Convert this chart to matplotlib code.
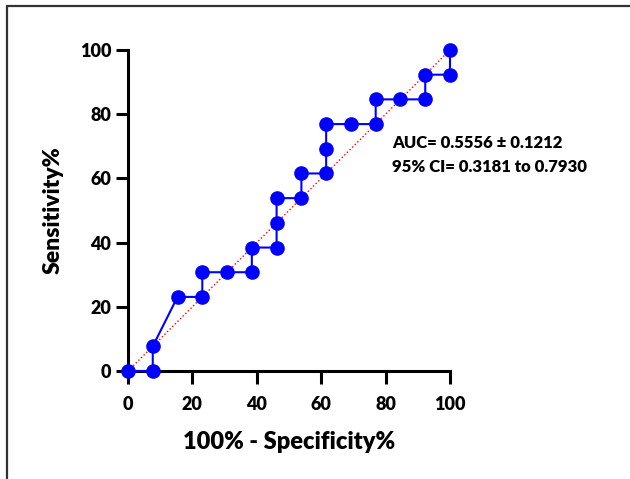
import matplotlib.pyplot as plt
from matplotlib.patches import Rectangle

# ROC points (100% - specificity, sensitivity)
fpr = [0, 7.69, 7.69, 15.38, 23.08, 23.08, 30.77, 38.46, 38.46, 46.15, 46.15, 46.15,
       53.85, 53.85, 61.54, 61.54, 61.54, 69.23, 76.92, 76.92, 84.62, 92.31, 92.31, 100, 100]
tpr = [0, 0, 7.69, 23.08, 23.08, 30.77, 30.77, 30.77, 38.46, 38.46, 46.15, 53.85,
       53.85, 61.54, 61.54, 69.23, 76.92, 76.92, 76.92, 84.62, 84.62, 84.62, 92.31, 92.31, 100]
ticks = [0, 20, 40, 60, 80, 100]
auc_text = 'AUC= 0.5556 ± 0.1212\n95% CI= 0.3181 to 0.7930'

plt.rcParams['font.family'] = ['Lato', 'DejaVu Sans']
W = 'heavy'

fig = plt.figure(figsize=(6.3, 4.79), dpi=100)
ax = fig.add_axes([128 / 630, 1 - 371 / 479, 322 / 630, 321 / 479])

ax.plot([0, 100], [0, 100], linestyle=':', color='red', linewidth=1, zorder=1)
ax.plot(fpr, tpr, color='blue', linewidth=1.5, marker='o', markersize=9.5,
        markerfacecolor='blue', markeredgecolor='blue', zorder=3, clip_on=False)

ax.set_xlim(0, 100)
ax.set_ylim(0, 100)
ax.set_xticks(ticks)
ax.set_yticks(ticks)
for s in ['top', 'right']:
    ax.spines[s].set_visible(False)
for s in ['left', 'bottom']:
    ax.spines[s].set_linewidth(2.2)
ax.tick_params(axis='both', direction='out', length=9, width=2.2, labelsize=13)
ax.tick_params(axis='x', pad=9)
ax.tick_params(axis='y', pad=3)
for lab in ax.get_xticklabels() + ax.get_yticklabels():
    lab.set_fontweight(W)

ax.set_xlabel('100% - Specificity%', fontsize=17, fontweight=W, labelpad=13)
ax.set_ylabel('Sensitivity%', fontsize=16.5, fontweight=W, labelpad=12)

fig.text(392 / 630, 1 - 155 / 479, auc_text, fontsize=12, fontweight=W,
         va='center', ha='left', linespacing=1.6)

fig.patches.append(Rectangle((7 / 630, -0.1), 1.2, 1 - 6 / 479 + 0.1, transform=fig.transFigure,
                             fill=False, edgecolor='#333333', linewidth=1.6))

plt.savefig('out.png', dpi=100)
